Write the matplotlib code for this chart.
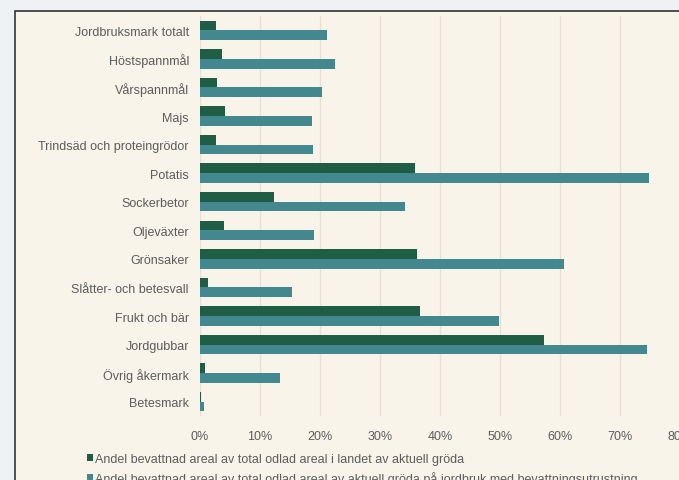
import matplotlib.pyplot as plt
import numpy as np
from matplotlib.patches import Rectangle

plt.rcParams['font.family'] = ['Liberation Sans', 'DejaVu Sans']

# Crops, top to bottom
grodor = ['Jordbruksmark totalt', 'Höstspannmål', 'Vårspannmål', 'Majs',
          'Trindsäd och proteingrödor', 'Potatis', 'Sockerbetor', 'Oljeväxter',
          'Grönsaker', 'Slåtter- och betesvall', 'Frukt och bär', 'Jordgubbar',
          'Övrig åkermark', 'Betesmark']

# Share irrigated of total cultivated area in the country (%)
andel_landet = [2.7, 3.7, 2.8, 4.1, 2.7, 35.8, 12.3, 4.0, 36.2, 1.3, 36.6, 57.4, 0.8, 0.2]
# Share irrigated on farms with irrigation equipment (%)
andel_utrustning = [21.1, 22.5, 20.4, 18.6, 18.8, 74.8, 34.1, 19.0, 60.6, 15.4, 49.8, 74.5, 13.4, 0.7]

xticks = np.arange(0, 81, 10)
xlabels = [f'{t}%' for t in xticks]

legend_labels = [
    'Andel bevattnad areal av total odlad areal i landet av aktuell gröda',
    'Andel bevattnad areal av total odlad areal av aktuell gröda på jordbruk med bevattningsutrustning',
]

dark_green = '#1f5d45'
teal = '#43878f'
cream = '#f8f4ea'
text_grey = '#5c5c5c'

W, H = 679, 481
fig = plt.figure(figsize=(W / 100, H / 100), dpi=100)
fig.patch.set_facecolor('#eef2f5')

# cream panel with dark border, running off the right and bottom edges
panel = Rectangle((15 / W, -0.05), 1.0, 1 - 12 / H + 0.05, transform=fig.transFigure,
                  facecolor=cream, edgecolor='#333333', linewidth=1.2, zorder=-5)
fig.patches.append(panel)

ax = fig.add_axes([200 / W, 1 - 417 / H, 480 / W, (417 - 17) / H])
ax.patch.set_alpha(0)

y = np.arange(len(grodor))
h = 0.34
b1 = ax.barh(y - h / 2, andel_landet, height=h, color=dark_green,
             label=legend_labels[0], zorder=3)
b2 = ax.barh(y + h / 2, andel_utrustning, height=h, color=teal,
             label=legend_labels[1], zorder=3)

ax.set_ylim(len(grodor) - 0.5, -0.5)
ax.set_xlim(0, 80)
ax.set_yticks(y)
ax.set_yticklabels(grodor)
ax.set_xticks(xticks)
ax.set_xticklabels(xlabels)
ax.tick_params(axis='y', length=0, pad=8, labelsize=9, labelcolor=text_grey)
ax.tick_params(axis='x', length=0, pad=10, labelsize=9, labelcolor=text_grey)
ax.grid(axis='x', color='#e6e1d4', linewidth=1.0, zorder=0)
for s in ax.spines.values():
    s.set_visible(False)

fig.legend(handles=[b1, b2], loc='upper left', bbox_to_anchor=(82 / W, 1 - 449 / H),
           frameon=False, fontsize=9, labelcolor=text_grey, handlelength=0.5,
           handleheight=0.5, handletextpad=0.15, labelspacing=0.45, borderaxespad=0)

fig.savefig('out.png', dpi=100, facecolor=fig.get_facecolor())
